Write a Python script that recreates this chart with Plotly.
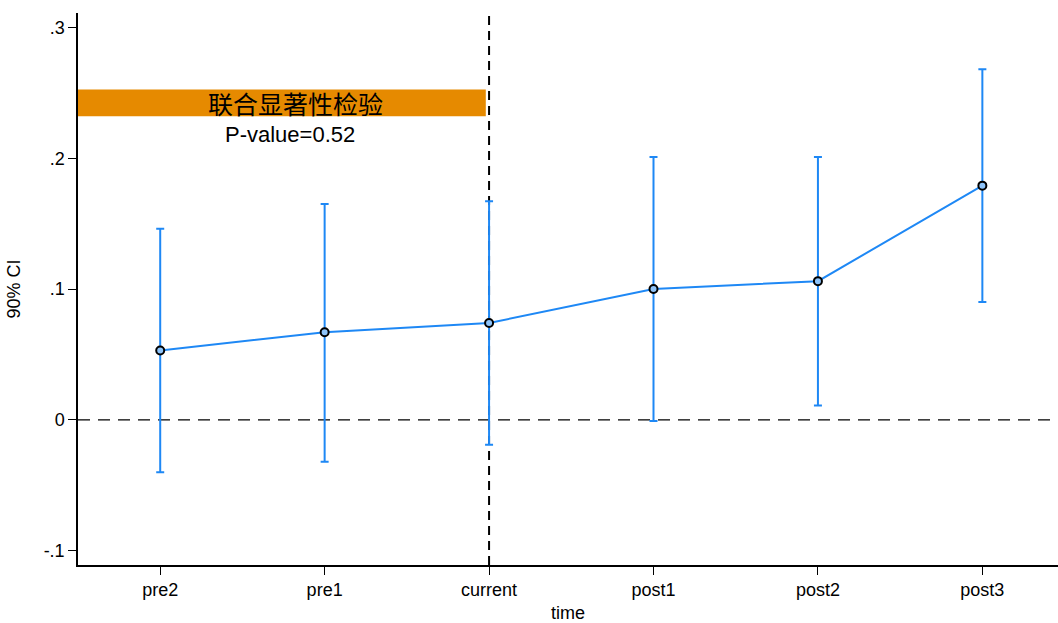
import plotly.graph_objects as go

# Event-study estimates with 90% confidence intervals
periods = ["pre2", "pre1", "current", "post1", "post2", "post3"]
coef = [0.053, 0.067, 0.074, 0.100, 0.106, 0.179]
ci_low = [-0.040, -0.032, -0.019, -0.001, 0.011, 0.090]
ci_high = [0.146, 0.165, 0.167, 0.201, 0.201, 0.268]
y_ticks = [-0.1, 0, 0.1, 0.2, 0.3]
y_tick_text = ["-.1", "0", ".1", ".2", ".3"]
joint_test_title = "联合显著性检验"
joint_test_p = "P-value=0.52"

xpos = list(range(1, len(periods) + 1))
blue = "#1E88F5"
font_main = "Liberation Sans, Arial, sans-serif"

fig = go.Figure()
fig.add_trace(go.Scatter(
    x=xpos, y=coef,
    mode="lines+markers",
    line=dict(color=blue, width=2),
    marker=dict(symbol="circle", size=8, color="#8EC4FA",
                line=dict(color="black", width=2)),
    error_y=dict(type="data", symmetric=False,
                 array=[h - c for h, c in zip(ci_high, coef)],
                 arrayminus=[c - l for c, l in zip(coef, ci_low)],
                 color=blue, thickness=2, width=4),
    showlegend=False,
))

# reference lines: zero effect and treatment period
fig.add_shape(type="line", xref="paper", x0=0, x1=1, yref="y", y0=0, y1=0,
              line=dict(color="black", width=1.2, dash="12px,8px"), layer="below")
fig.add_shape(type="line", xref="x", x0=3, x1=3, yref="paper", y0=0, y1=1,
              line=dict(color="black", width=2, dash="9px,6px"), layer="below")

# joint significance test box
fig.add_shape(type="rect", xref="x", x0=0.5, x1=2.98,
              yref="y", y0=0.232, y1=0.2525,
              fillcolor="#E68A00", line=dict(width=0), layer="below")
fig.add_annotation(x=1.82, y=0.2423, xref="x", yref="y",
                   text=joint_test_title, showarrow=False,
                   font=dict(family="Noto Sans CJK SC", size=25, color="black"))
fig.add_annotation(x=1.79, y=0.218, xref="x", yref="y",
                   text=joint_test_p, showarrow=False,
                   font=dict(family=font_main, size=22, color="black"))

fig.update_layout(
    width=1058, height=623,
    margin=dict(l=78, r=0, t=13, b=58),
    plot_bgcolor="white", paper_bgcolor="white",
    font=dict(family=font_main, size=18, color="black"),
    xaxis=dict(
        range=[0.5, 6.46], tickmode="array", tickvals=xpos, ticktext=periods,
        showgrid=False, zeroline=False, showline=True, linecolor="black",
        linewidth=1.5, ticks="outside", ticklen=8, tickwidth=1.2,
        tickcolor="black", tickfont=dict(size=18),
        title=dict(text="time", font=dict(size=18), standoff=10),
    ),
    yaxis=dict(
        range=[-0.111, 0.311], tickmode="array", tickvals=y_ticks,
        ticktext=y_tick_text, showgrid=False, zeroline=False, showline=True,
        linecolor="black", linewidth=1.5, ticks="outside", ticklen=8,
        tickwidth=1.2, tickcolor="black", tickfont=dict(size=18),
        title=dict(text="90% CI", font=dict(size=18), standoff=18),
    ),
)

fig.write_html("out.html")
